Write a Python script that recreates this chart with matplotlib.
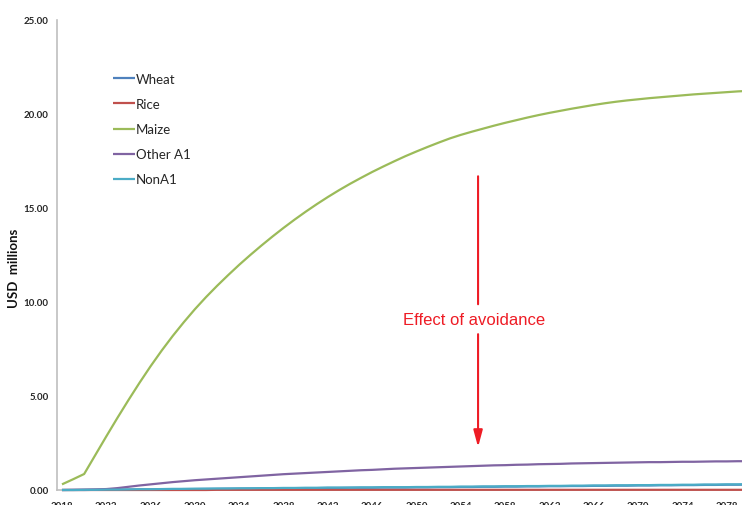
import matplotlib
matplotlib.use('Agg')
import matplotlib.pyplot as plt

# Годы и значения (USD млн)
years = list(range(2018, 2081))

wheat = [0.00, 0.00,
         0.00, 0.01, 0.01, 0.02, 0.02, 0.03, 0.03, 0.04, 0.04, 0.05,
         0.05, 0.06, 0.06, 0.07, 0.07, 0.08, 0.08, 0.09, 0.09, 0.10,
         0.10, 0.10, 0.11, 0.11, 0.12, 0.12, 0.12, 0.13, 0.13, 0.13,
         0.14, 0.14, 0.15, 0.15, 0.16, 0.16, 0.17, 0.17, 0.18, 0.18,
         0.19, 0.19, 0.20, 0.20, 0.21, 0.21, 0.22, 0.22, 0.23, 0.23,
         0.24, 0.24, 0.25, 0.25, 0.26, 0.26, 0.27, 0.27, 0.28, 0.28,
         0.29]

rice = [0.00, 0.00,
        0.00, 0.00, 0.00, 0.00, 0.00, 0.00, 0.00, 0.00, 0.00, 0.00,
        0.00, 0.00, 0.01, 0.01, 0.01, 0.01, 0.01, 0.01, 0.01, 0.01,
        0.01, 0.01, 0.01, 0.01, 0.01, 0.01, 0.01, 0.01, 0.01, 0.01,
        0.01, 0.01, 0.01, 0.01, 0.01, 0.01, 0.01, 0.01, 0.01, 0.01,
        0.01, 0.01, 0.01, 0.01, 0.01, 0.01, 0.01, 0.01, 0.01, 0.01,
        0.01, 0.01, 0.01, 0.01, 0.01, 0.01, 0.01, 0.01, 0.01, 0.01,
        0.01]

maize = [0.30, 0.57,
         0.85, 1.85, 2.85, 3.83, 4.78, 5.70, 6.58, 7.41, 8.19, 8.92,
         9.61, 10.25, 10.85, 11.42, 11.97, 12.49, 12.99, 13.47, 13.93, 14.37,
         14.79, 15.19, 15.57, 15.93, 16.27, 16.59, 16.90, 17.19, 17.47, 17.74,
         17.99, 18.23, 18.46, 18.68, 18.87, 19.04, 19.20, 19.36, 19.51, 19.65,
         19.79, 19.92, 20.04, 20.15, 20.26, 20.36, 20.46, 20.55, 20.63, 20.70,
         20.76, 20.82, 20.87, 20.92, 20.97, 21.02, 21.06, 21.10, 21.14, 21.18,
         21.21]

other_a1 = [0.00, 0.01,
            0.02, 0.03, 0.05, 0.10, 0.17, 0.24, 0.30, 0.36, 0.42, 0.47,
            0.52, 0.56, 0.60, 0.64, 0.68, 0.72, 0.76, 0.80, 0.84, 0.87,
            0.90, 0.93, 0.96, 0.99, 1.02, 1.05, 1.07, 1.10, 1.13, 1.15,
            1.17, 1.19, 1.21, 1.23, 1.25, 1.27, 1.29, 1.31, 1.32, 1.34,
            1.35, 1.37, 1.38, 1.39, 1.41, 1.42, 1.43, 1.44, 1.45, 1.46,
            1.47, 1.48, 1.48, 1.49, 1.50, 1.50, 1.51, 1.52, 1.52, 1.53,
            1.53]

non_a1 = [0.00, 0.00,
          0.01, 0.01, 0.02, 0.02, 0.03, 0.04, 0.04, 0.05, 0.06, 0.06,
          0.07, 0.07, 0.08, 0.08, 0.09, 0.09, 0.10, 0.10, 0.11, 0.11,
          0.12, 0.12, 0.13, 0.13, 0.13, 0.14, 0.14, 0.15, 0.15, 0.15,
          0.16, 0.16, 0.17, 0.17, 0.18, 0.18, 0.19, 0.19, 0.20, 0.20,
          0.21, 0.21, 0.22, 0.22, 0.23, 0.23, 0.24, 0.24, 0.25, 0.25,
          0.26, 0.26, 0.27, 0.27, 0.28, 0.28, 0.29, 0.29, 0.30, 0.30,
          0.31]

series = [
    ('Wheat', wheat, '#4F81BD'),
    ('Rice', rice, '#C0504D'),
    ('Maize', maize, '#9BBB59'),
    ('Other A1', other_a1, '#8064A2'),
    ('NonA1', non_a1, '#4BACC6'),
]

x_ticks = list(range(2018, 2079, 4))
y_ticks = [0, 5, 10, 15, 20, 25]

W, H = 742, 506
fig = plt.figure(figsize=(W / 100, H / 100), dpi=100)
ax = fig.add_axes([57 / W, 15 / H, (W - 57) / W, 470.5 / H])

for name, vals, col in series:
    ax.plot(years, vals, color=col, lw=1.6, label=name, solid_capstyle='butt',
            zorder=3, clip_on=False)

ax.set_xlim(2017.55, 2079.37)
ax.set_ylim(0, 25)
ax.set_xticks(x_ticks)
ax.set_xticklabels([str(t) for t in x_ticks])
ax.set_yticks(y_ticks)
ax.set_yticklabels(['%.2f' % t for t in y_ticks])

for lab in ax.get_xticklabels() + ax.get_yticklabels():
    lab.set_fontfamily('Lato')
    lab.set_fontweight('bold')
    lab.set_fontsize(7)
    lab.set_color('#262626')
ax.tick_params(axis='both', length=0)
ax.tick_params(axis='x', pad=8)
ax.tick_params(axis='y', pad=6)

for s in ['top', 'right']:
    ax.spines[s].set_visible(False)
ax.spines['left'].set_color('#BFBFBF')
ax.spines['left'].set_linewidth(1.2)
ax.spines['bottom'].set_color('#BFBFBF')
ax.spines['bottom'].set_linewidth(1.2)

fig.text(14 / W, 1 - 268 / H, 'USD  millions', rotation=90, ha='center', va='center',
         family='Lato', weight='bold', fontsize=9.5, color='#111111')

leg = ax.legend(loc='upper left', bbox_to_anchor=(113 / W, 1 - 74 / H),
                bbox_transform=fig.transFigure, frameon=False,
                prop={'family': 'Lato', 'size': 9.5}, handlelength=1.65,
                handletextpad=0.1, labelspacing=0.99, borderpad=0,
                borderaxespad=0)
for t in leg.get_texts():
    t.set_color('#262626')

# Стрелка "Effect of avoidance"
red = '#EE1C25'
ax_x = 2055.55
ax.annotate('', xy=(ax_x, 9.87), xytext=(ax_x, 16.67),
            arrowprops=dict(arrowstyle='-', color=red, lw=1.5,
                            shrinkA=0, shrinkB=0))
ax.annotate('', xy=(ax_x, 2.28), xytext=(ax_x, 8.28),
            arrowprops=dict(arrowstyle='-|>,head_length=1.0,head_width=0.27',
                            color=red, lw=1.5, shrinkA=0, shrinkB=0))
ax.text(2055.2, 9.08, 'Effect of avoidance', color=red, ha='center', va='center',
        family='Liberation Sans', fontsize=12)

fig.savefig('out.png', dpi=100)
